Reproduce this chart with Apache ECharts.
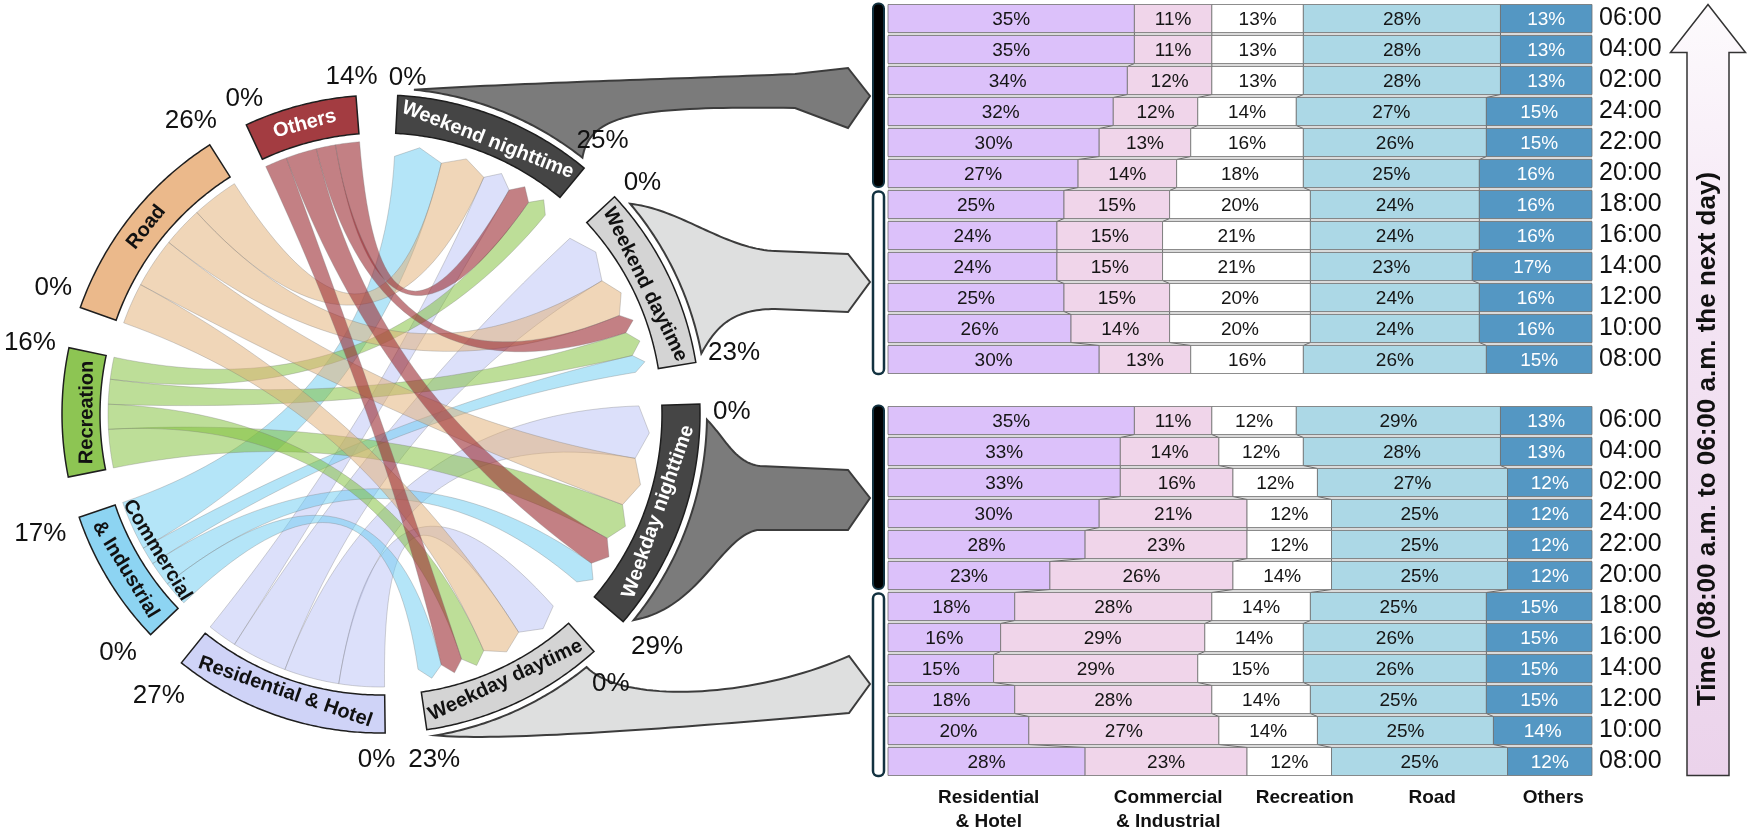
<!DOCTYPE html>
<html>
<head>
<meta charset="utf-8">
<script src="https://cdn.jsdelivr.net/npm/echarts@6/dist/echarts.min.js"></script>
<style>
html,body{margin:0;padding:0;background:#fff;}
#main{width:1750px;height:832px;}
</style>
</head>
<body>
<div id="main"></div>
<script>
// ================= DATA =================
// time slots, bottom row first (08:00) to top row (06:00 next day)
const timeLabels = ['08:00','10:00','12:00','14:00','16:00','18:00','20:00','22:00','24:00','02:00','04:00','06:00'];
const landUses = ['Residential & Hotel','Commercial & Industrial','Recreation','Road','Others'];
const periods = ['Weekend nighttime','Weekend daytime','Weekday nighttime','Weekday daytime'];

// Weekend shares (%) per time slot
const weekendRes  = [30,26,25,24,24,25,27,30,32,34,35,35];
const weekendCom  = [13,14,15,15,15,15,14,13,12,12,11,11];
const weekendRec  = [16,20,20,21,21,20,18,16,14,13,13,13];
const weekendRoad = [26,24,24,23,24,24,25,26,27,28,28,28];
const weekendOth  = [15,16,16,17,16,16,16,15,15,13,13,13];
// Weekday shares (%) per time slot
const weekdayRes  = [28,20,18,15,16,18,23,28,30,33,33,35];
const weekdayCom  = [23,27,28,29,29,28,26,23,21,16,14,11];
const weekdayRec  = [12,14,14,15,14,14,14,12,12,12,12,12];
const weekdayRoad = [25,25,25,26,26,25,25,25,25,27,28,29];
const weekdayOth  = [12,14,15,15,15,15,12,12,12,12,13,13];

// Chord diagram: sector totals (%) and flows land use -> period
const periodTotals = [25,23,29,23];
const landTotals = [27,17,16,26,14];
// columns: Weekend nighttime, Weekend daytime, Weekday nighttime, Weekday daytime
const flowRes  = [4.3, 8.1, 8.0, 6.6];
const flowCom  = [7.2, 2.6, 3.6, 3.6];
const flowRec  = [3.2, 3.6, 5.6, 3.6];
const flowRoad = [6.8, 5.9, 7.3, 6.0];
const flowOth  = [3.5, 2.8, 4.5, 3.2];

// ================= LAYOUT / STYLE =================
const FONT = '"Liberation Sans", Arial, Helvetica, sans-serif';
const weekendRows = timeLabels.map((t,i)=>[weekendRes[i],weekendCom[i],weekendRec[i],weekendRoad[i],weekendOth[i]]);
const weekdayRows = timeLabels.map((t,i)=>[weekdayRes[i],weekdayCom[i],weekdayRec[i],weekdayRoad[i],weekdayOth[i]]);
const flowMatrix = [flowRes, flowCom, flowRec, flowRoad, flowOth];

const segColors = ['#dcc1fa','#f0d5ea','#ffffff','#acd8e6','#5497c3'];
const segText = ['#151515','#151515','#151515','#151515','#ffffff'];

const periodBoxFill = ['#454545','#d4d4d4','#454545','#d4d4d4'];
const periodTextFill = ['#ffffff','#111111','#ffffff','#111111'];
const landBoxFill = ['#cfd3f7','#8dd4f2','#8dc553','#ebb98b','#a33c41'];
const landTextFill = ['#111111','#111111','#111111','#111111','#ffffff'];
const ribbonColors = ['rgba(185,193,245,0.5)','rgba(105,203,241,0.5)','rgba(123,189,49,0.5)','rgba(225,173,113,0.5)','rgba(155,43,50,0.6)'];

// ribbon ordering inside sectors (clockwise)
const landOrder = [[3,2,1,0],[3,2,1,0],[2,3,1,0],[3,2,1,0],[3,2,1,0]];
const periodOrder = [[1,3,0,4,2],[0,3,4,2,1],[0,3,2,4,1],[0,3,2,4,1]];

const GAP = 7.5, START = 3;
const R_SRC = 273, R_BASE = 258, R_TIP = 269, R_IN = 281, R_OUT = 319, R_FUN = 326;

const order = periods.map((n,i)=>({name:n, kind:'p', i, total:periodTotals[i]}))
  .concat(landUses.map((n,i)=>({name:n, kind:'l', i, total:landTotals[i]})));
const K = (360 - order.length*GAP) / order.reduce((s,o)=>s+o.total,0);
let acc = START;
order.forEach(o => { o.a0 = acc; o.a1 = acc + o.total*K; acc = o.a1 + GAP; });
const landSec = order.filter(o=>o.kind==='l');
const perSec = order.filter(o=>o.kind==='p');

const rib = {};
landSec.forEach((s,i)=>{ let cur = s.a0; landOrder[i].forEach(j=>{ const w = flowMatrix[i][j]*K; rib[i+'-'+j] = {i, j, sa0:cur, sa1:cur+w}; cur += w; }); });
perSec.forEach((s,j)=>{ let cur = s.a0; periodOrder[j].forEach(i=>{ const w = flowMatrix[i][j]*K; Object.assign(rib[i+'-'+j], {ta0:cur, ta1:cur+w}); cur += w; }); });
const ribbonList = [];
for (let i=0;i<landUses.length;i++) for (let j=0;j<periods.length;j++) ribbonList.push(rib[i+'-'+j]);

function arcPts(P, r, a0, a1, out) {
  const n = Math.max(2, Math.ceil(Math.abs(a1-a0)/0.5));
  for (let k=0;k<=n;k++) out.push(P(r, a0+(a1-a0)*k/n));
  return out;
}
function quadPts(p0, c, p1, out, n) {
  n = n || 40;
  for (let k=0;k<=n;k++){ const t=k/n,u=1-t;
    out.push([u*u*p0[0]+2*u*t*c[0]+t*t*p1[0], u*u*p0[1]+2*u*t*c[1]+t*t*p1[1]]); }
  return out;
}
function cubicPts(p0, c1, c2, p1, out, n) {
  n = n || 40;
  for (let k=0;k<=n;k++){ const t=k/n,u=1-t;
    out.push([u*u*u*p0[0]+3*u*u*t*c1[0]+3*u*t*t*c2[0]+t*t*t*p1[0],
              u*u*u*p0[1]+3*u*u*t*c1[1]+3*u*t*t*c2[1]+t*t*t*p1[1]]); }
  return out;
}
function rotFor(theta) {
  const deg = (theta >= 90 && theta < 265) ? 180 - theta : -theta;
  return deg*Math.PI/180;
}

function ribbonRender(params, api) {
  const d = ribbonList[params.dataIndex];
  const P = (r,a)=>api.coord([r,a]);
  const C = api.coord([0,0]);
  const pts = [];
  arcPts(P, R_SRC, d.sa0, d.sa1, pts);
  quadPts(P(R_SRC,d.sa1), C, P(R_BASE,d.ta0), pts);
  pts.push(P(R_TIP,(d.ta0+d.ta1)/2));
  quadPts(P(R_BASE,d.ta1), C, P(R_SRC,d.sa0), pts);
  return {type:'polygon', shape:{points:pts},
    style:{fill:ribbonColors[d.i], stroke:'rgba(120,120,120,0.4)', lineWidth:0.8}};
}

function sectorRender(params, api) {
  const s = order[params.dataIndex];
  const P = (r,a)=>api.coord([r,a]);
  const pts = [];
  arcPts(P, R_OUT, s.a0, s.a1, pts);
  arcPts(P, R_IN, s.a1, s.a0, pts);
  const fill = s.kind==='p' ? periodBoxFill[s.i] : landBoxFill[s.i];
  const tfill = s.kind==='p' ? periodTextFill[s.i] : landTextFill[s.i];
  const mid = (s.a0+s.a1)/2;
  const children = [{type:'polygon', shape:{points:pts}, style:{fill, stroke:'#1e1e1e', lineWidth:1.5}}];
  let lines;
  if (s.kind==='l' && s.i===1) lines = [['Commercial', 262], ['& Industrial', 299]];
  else lines = [[s.name, s.name.length > 8 ? 294 : 300]];
  lines.forEach(([txt, r], k) => {
    const p = P(r, mid);
    children.push({type:'text', x:p[0], y:p[1], rotation:rotFor(mid),
      style:{text:txt, fill:(s.kind==='l'&&s.i===1&&k===0)?'#111':tfill, fontSize:20, fontWeight:'bold', fontFamily:FONT,
        align:'center', verticalAlign:'middle'}});
  });
  // percent labels at sector boundaries
  const labs = [];
  if (!(s.kind==='l' && s.i===2)) labs.push(['0%', s.a0+1.5]);
  labs.push([s.total+'%', s.a1-0.5]);
  labs.forEach(([txt, a])=>{
    const rad = a*Math.PI/180;
    const w = 14.5*(txt.length-1)+23;
    const cs = Math.cos(rad);
    const r = 332 + Math.abs(Math.sin(rad))*w/2 + (cs>0 ? 4*cs : 14*Math.abs(cs));
    const p = P(r, a);
    children.push({type:'text', x:p[0], y:p[1],
      style:{text:txt, fill:'#111', fontSize:26, fontFamily:FONT, align:'center', verticalAlign:'middle'}});
  });
  return {type:'group', children};
}

function barRender(rows) {
  return function(params, api) {
    const i = api.value(0);
    const vals = rows[i];
    const c = api.coord([0, i]);
    const band = api.size([0, 1])[1];
    const h = band - 3;
    const yTop = c[1] - h/2;
    const children = [];
    if (i+1 < rows.length) {
      const up = rows[i+1];
      const yUpBot = api.coord([0, i+1])[1] + h/2;
      const xl = api.coord([0,i])[0], xr = api.coord([100,i])[0];
      children.push({type:'rect', shape:{x:xl, y:yUpBot, width:xr-xl, height:yTop-yUpBot}, style:{fill:'#dadada'}});
      let cu = 0, cc = 0;
      for (let k=0;k<4;k++){
        cu += up[k]; cc += vals[k];
        children.push({type:'line', shape:{x1:api.coord([cu,i])[0], y1:yUpBot, x2:api.coord([cc,i])[0], y2:yTop},
          style:{stroke:'#6a6a6a', lineWidth:1}});
      }
    }
    let cum = 0;
    vals.forEach((v,j)=>{
      const x0 = api.coord([cum,i])[0], x1 = api.coord([cum+v,i])[0];
      children.push({type:'rect', shape:{x:x0, y:yTop, width:x1-x0, height:h},
        style:{fill:segColors[j], stroke:'#707070', lineWidth:0.8}});
      children.push({type:'text', x:(x0+x1)/2, y:c[1]+1,
        style:{text:v+'%', fill:segText[j], fontSize:19, fontFamily:FONT, align:'center', verticalAlign:'middle'}});
      cum += v;
    });
    return {type:'group', children};
  };
}

const chart = echarts.init(document.getElementById('main'), null, {renderer:'canvas', width:1750, height:832});

const hiddenAxisParts = {axisLine:{show:false}, axisTick:{show:false}, axisLabel:{show:false}, splitLine:{show:false}, splitArea:{show:false}};

const option = {
  animation:false,
  backgroundColor:'#ffffff',
  polar:{center:[381,414], radius:319},
  angleAxis:Object.assign({type:'value', min:0, max:360, startAngle:90, clockwise:true, show:false}, hiddenAxisParts),
  radiusAxis:Object.assign({type:'value', min:0, max:R_OUT, show:false}, hiddenAxisParts),
  grid:[
    {left:888, top:3, width:704, height:372, outerBoundsMode:'none', containLabel:false},
    {left:888, top:405, width:704, height:372, outerBoundsMode:'none', containLabel:false}
  ],
  xAxis:[0,1].map(g=>Object.assign({type:'value', gridIndex:g, min:0, max:100, show:false}, hiddenAxisParts)),
  yAxis:[0,1].map(g=>({type:'category', gridIndex:g, data:timeLabels, position:'right',
    axisLine:{show:false}, axisTick:{show:false}, splitLine:{show:false},
    axisLabel:{fontSize:25, fontFamily:FONT, color:'#111', margin:7, interval:0}})),
  series:[
    {type:'custom', coordinateSystem:'polar', polarIndex:0, silent:true, z:2,
      data:ribbonList.map((d,k)=>[d.i, d.j, flowMatrix[d.i][d.j]]), renderItem:ribbonRender},
    {type:'custom', coordinateSystem:'polar', polarIndex:0, silent:true, z:3,
      data:order.map((o,k)=>[k, k]), renderItem:sectorRender},
    {type:'custom', coordinateSystem:'cartesian2d', xAxisIndex:0, yAxisIndex:0, silent:true, z:2,
      data:weekendRows.map((r,i)=>[i].concat(r)), encode:{x:1, y:0}, renderItem:barRender(weekendRows)},
    {type:'custom', coordinateSystem:'cartesian2d', xAxisIndex:1, yAxisIndex:1, silent:true, z:2,
      data:weekdayRows.map((r,i)=>[i].concat(r)), encode:{x:1, y:0}, renderItem:barRender(weekdayRows)}
  ]
};
chart.setOption(option);

// ---------- decorations anchored to the coordinate systems ----------
const polarPx = (r,a)=>chart.convertToPixel({seriesIndex:0}, [r,a]);
const gridPx = (g,x,i)=>chart.convertToPixel({seriesIndex:2+g}, [x,i]);
const graphics = [];

const funnelSpec = [
  {p:0, g:0, night:true, fill:'#7b7b7b', o:{c1:[-350,-13], c2:[-170,-18], nt:[-75,-22], ht:[-22,-28], hb:[-22,32], nb:[-75,12], c3:[-230,10], c4:[-280,17]}},
  {p:1, g:0, night:false, fill:'#dedfdf', o:{c1:[-190,-73], c2:[-145,-33], nt:[-95,-31], ht:[-22,-28], hb:[-22,30], nb:[-95,27], c3:[-140,27], c4:[-155,47]}},
  {p:2, g:1, night:true, fill:'#7b7b7b', o:{c1:[-145,-60], c2:[-135,-35], nt:[-110,-32], ht:[-22,-28], hb:[-22,32], nb:[-113,32], c3:[-150,40], c4:[-170,110]}},
  {p:3, g:1, night:false, fill:'#dedfdf', o:{c1:[-248,20], c2:[-118,15], nt:[-21,-28], ht:[-21,-28], hb:[-21,29], nb:[-21,29], c3:[-168,42], c4:[-368,58]}}
];
funnelSpec.forEach(f=>{
  const s = order[f.p];
  const a0 = s.a0 + 2.8, a1 = s.a1 - 1.4;
  const rows = f.night ? [11,6] : [5,0];
  const ty = (gridPx(f.g,0,rows[0])[1] + gridPx(f.g,0,rows[1])[1]) / 2;
  const tx = gridPx(f.g,0,0)[0] - 18;
  const T = o=>[tx+o[0], ty+o[1]];
  const P0 = polarPx(R_FUN,a0), P1 = polarPx(R_FUN,a1);
  const pts = [];
  cubicPts(P0, T(f.o.c1), T(f.o.c2), T(f.o.nt), pts);
  pts.push(T(f.o.ht), [tx,ty], T(f.o.hb));
  cubicPts(T(f.o.nb), T(f.o.c3), T(f.o.c4), P1, pts);
  const n = 60;
  for (let k=1;k<n;k++) pts.push(polarPx(R_FUN, a1+(a0-a1)*k/n));
  graphics.push({type:'polygon', z:1, silent:true, shape:{points:pts}, style:{fill:f.fill, stroke:'#3c3c3c', lineWidth:2}});
});

// brackets left of the bar panels
[0,1].forEach(g=>{
  const x = gridPx(g,0,0)[0] - 15;
  const yN0 = gridPx(g,0,11)[1] - 15, yN1 = gridPx(g,0,6)[1] + 13.5;
  const yD0 = gridPx(g,0,5)[1] - 13, yD1 = gridPx(g,0,0)[1] + 14.5;
  graphics.push({type:'rect', z:1, silent:true, shape:{x, y:yN0, width:11, height:yN1-yN0, r:5}, style:{fill:'#000', stroke:'#123240', lineWidth:2}});
  graphics.push({type:'rect', z:1, silent:true, shape:{x, y:yD0, width:11, height:yD1-yD0, r:5}, style:{fill:'#fff', stroke:'#123240', lineWidth:2.5}});
});

// bottom category labels
const bottomLabelPos = [14.3, 39.8, 59.2, 77.3, 94.5];
const bottomLabelText = ['Residential\n& Hotel', 'Commercial\n& Industrial', 'Recreation', 'Road', 'Others'];
const yBottom = gridPx(1,0,0)[1] + 24;
bottomLabelText.forEach((t,k)=>{
  graphics.push({type:'text', z:5, silent:true, x:gridPx(1,bottomLabelPos[k],0)[0], y:yBottom,
    style:{text:t, fill:'#111', fontSize:19, fontWeight:'bold', fontFamily:FONT, align:'center', verticalAlign:'top', lineHeight:24}});
});

// time arrow on the right
const arrowTop = gridPx(0,0,11)[1] - 14;
const arrowBot = gridPx(1,0,0)[1] + 14;
const ax = 1708, sw = 21, hw = 37.5, headBase = arrowTop + 48;
graphics.push({type:'polygon', z:1, silent:true,
  shape:{points:[[ax,arrowTop],[ax+hw,headBase],[ax+sw,headBase],[ax+sw,arrowBot],[ax-sw,arrowBot],[ax-sw,headBase],[ax-hw,headBase]]},
  style:{fill:{type:'linear', x:0, y:0, x2:0, y2:1, colorStops:[{offset:0,color:'#fdfbfd'},{offset:0.35,color:'#f4e5f4'},{offset:1,color:'#ebd3eb'}]},
    stroke:'#333', lineWidth:1.5}});
graphics.push({type:'text', z:5, silent:true, x:ax, y:(headBase+arrowBot)/2 + 25, rotation:Math.PI/2,
  style:{text:'Time (08:00 a.m. to 06:00 a.m. the next day)', fill:'#111', fontSize:26, fontWeight:'bold', fontFamily:FONT,
    align:'center', verticalAlign:'middle'}});

chart.setOption({graphic:graphics});
</script>
</body>
</html>
